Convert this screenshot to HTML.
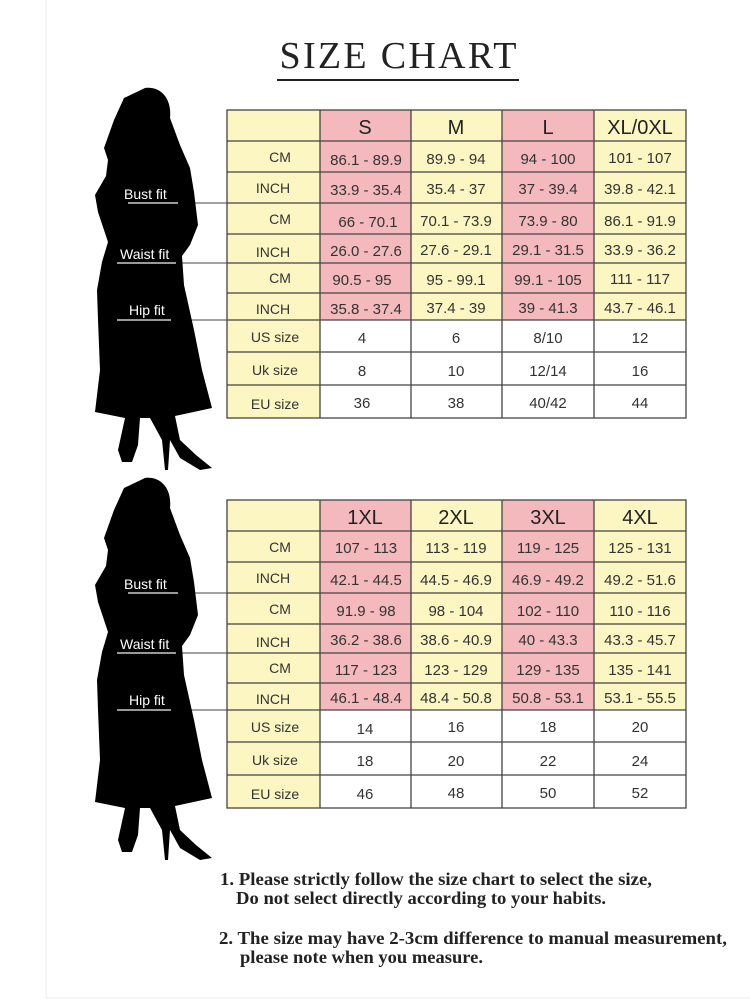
<!DOCTYPE html>
<html><head><meta charset="utf-8"><style>
html,body{margin:0;padding:0;background:#fff;}
svg{display:block;}
.h{font-family:"Liberation Sans",sans-serif;font-size:20px;fill:#222;text-anchor:middle;}
.v{font-family:"Liberation Sans",sans-serif;font-size:15px;fill:#333;text-anchor:middle;}
.l{font-family:"Liberation Sans",sans-serif;font-size:14px;fill:#333;text-anchor:middle;}
.f{font-family:"Liberation Sans",sans-serif;font-size:14px;fill:#fff;}
.n{font-family:"Liberation Serif",serif;font-size:18px;font-weight:bold;fill:#222;}
</style></head><body>
<svg width="750" height="1000" viewBox="0 0 750 1000" xmlns="http://www.w3.org/2000/svg">
<rect width="750" height="1000" fill="#fff"/>
<line x1="46" y1="0" x2="46" y2="998" stroke="#eee" stroke-width="1"/>
<line x1="46" y1="998" x2="750" y2="998" stroke="#eee" stroke-width="1"/>
<text x="398" y="68" font-family="Liberation Serif,serif" font-size="38" fill="#222" text-anchor="middle" textLength="237">SIZE CHART</text>
<line x1="277" y1="80" x2="519" y2="80" stroke="#222" stroke-width="2"/>

<defs>
<path id="sil" d="M145,88 C162,86 172,100 170,118 L180,145 L190,168 L194,192 L198,225 L190,245 L182,256 L184,285 L194,330 L202,370 L212,408 L175,416 L180,440 L196,455 L212,468 L200,470 L180,458 L170,440 L168,470 L165,470 L162,440 L150,418 L140,418 L138,445 L132,462 L122,462 L118,450 L125,418 L95,412 L100,370 L98,320 L97,290 L102,262 L108,242 L98,212 L95,195 L106,176 L108,160 L104,148 L114,120 L124,98 Z"/>
<g id="tbl">
<rect x="227" y="110" width="459" height="308" fill="#fbf6c2"/>
<rect x="320" y="110" width="91" height="210" fill="#f3b9bd"/>
<rect x="502" y="110" width="92" height="210" fill="#f3b9bd"/>
<rect x="320" y="320" width="366" height="98" fill="#fff"/>
<g stroke="#444" stroke-width="1.3" fill="none">
<rect x="227" y="110" width="459" height="308"/>
<line x1="320" y1="110" x2="320" y2="418"/><line x1="411" y1="110" x2="411" y2="418"/>
<line x1="502" y1="110" x2="502" y2="418"/><line x1="594" y1="110" x2="594" y2="418"/>
<line x1="227" y1="141" x2="686" y2="141"/><line x1="227" y1="172" x2="686" y2="172"/>
<line x1="227" y1="203" x2="686" y2="203"/><line x1="227" y1="234" x2="686" y2="234"/>
<line x1="227" y1="263" x2="686" y2="263"/><line x1="227" y1="293" x2="686" y2="293"/>
<line x1="227" y1="320" x2="686" y2="320"/><line x1="227" y1="352" x2="686" y2="352"/>
<line x1="227" y1="385" x2="686" y2="385"/>
</g>
<text class="l" x="280" y="162">CM</text><text class="l" x="273" y="193">INCH</text>
<text class="l" x="280" y="224">CM</text><text class="l" x="273" y="257">INCH</text>
<text class="l" x="280" y="283">CM</text><text class="l" x="273" y="314">INCH</text>
<text class="l" x="275" y="342">US size</text><text class="l" x="275" y="375">Uk size</text>
<text class="l" x="275" y="409">EU size</text>
<line x1="190" y1="203" x2="227" y2="203" stroke="#444"/>
<line x1="178" y1="263" x2="227" y2="263" stroke="#444"/>
<line x1="180" y1="320" x2="227" y2="320" stroke="#444"/>
<use href="#sil"/>
<text class="f" x="124" y="199">Bust fit</text><line x1="128" y1="203" x2="178" y2="203" stroke="#ccc" stroke-width="1.5"/>
<text class="f" x="120" y="259">Waist fit</text><line x1="117" y1="263" x2="176" y2="263" stroke="#ccc" stroke-width="1.5"/>
<text class="f" x="129" y="315">Hip fit</text><line x1="117" y1="320" x2="171" y2="320" stroke="#ccc" stroke-width="1.5"/>
</g>
</defs>

<use href="#tbl"/>
<use href="#tbl" transform="translate(0,390)"/>

<g class="h">
<text x="365" y="134">S</text><text x="456" y="134">M</text><text x="548" y="134">L</text><text x="640" y="134">XL/0XL</text>
<text x="365" y="524">1XL</text><text x="456" y="524">2XL</text><text x="548" y="524">3XL</text><text x="640" y="524">4XL</text>
</g>
<g class="v">
<text x="366" y="165">86.1 - 89.9</text><text x="456" y="164">89.9 - 94</text><text x="548" y="164">94 - 100</text><text x="640" y="163">101 - 107</text>
<text x="366" y="195">33.9 - 35.4</text><text x="456" y="194">35.4 - 37</text><text x="548" y="194">37 - 39.4</text><text x="640" y="194">39.8 - 42.1</text>
<text x="368" y="227">66 - 70.1</text><text x="456" y="226">70.1 - 73.9</text><text x="548" y="226">73.9 - 80</text><text x="640" y="226">86.1 - 91.9</text>
<text x="366" y="256">26.0 - 27.6</text><text x="456" y="255">27.6 - 29.1</text><text x="548" y="255">29.1 - 31.5</text><text x="640" y="255">33.9 - 36.2</text>
<text x="362" y="285">90.5 - 95</text><text x="456" y="285">95 - 99.1</text><text x="548" y="285">99.1 - 105</text><text x="640" y="284">111 - 117</text>
<text x="366" y="314">35.8 - 37.4</text><text x="456" y="313">37.4 - 39</text><text x="548" y="313">39 - 41.3</text><text x="640" y="313">43.7 - 46.1</text>
<text x="362" y="343">4</text><text x="456" y="343">6</text><text x="548" y="343">8/10</text><text x="640" y="343">12</text>
<text x="362" y="376">8</text><text x="456" y="376">10</text><text x="548" y="376">12/14</text><text x="640" y="376">16</text>
<text x="362" y="408">36</text><text x="456" y="408">38</text><text x="548" y="408">40/42</text><text x="640" y="408">44</text>

<text x="366" y="553">107 - 113</text><text x="456" y="553">113 - 119</text><text x="548" y="553">119 - 125</text><text x="640" y="553">125 - 131</text>
<text x="366" y="585">42.1 - 44.5</text><text x="456" y="585">44.5 - 46.9</text><text x="548" y="585">46.9 - 49.2</text><text x="640" y="585">49.2 - 51.6</text>
<text x="366" y="616">91.9 - 98</text><text x="456" y="616">98 - 104</text><text x="548" y="616">102 - 110</text><text x="640" y="616">110 - 116</text>
<text x="366" y="645">36.2 - 38.6</text><text x="456" y="645">38.6 - 40.9</text><text x="548" y="645">40 - 43.3</text><text x="640" y="645">43.3 - 45.7</text>
<text x="366" y="675">117 - 123</text><text x="456" y="675">123 - 129</text><text x="548" y="675">129 - 135</text><text x="640" y="675">135 - 141</text>
<text x="366" y="703">46.1 - 48.4</text><text x="456" y="703">48.4 - 50.8</text><text x="548" y="703">50.8 - 53.1</text><text x="640" y="703">53.1 - 55.5</text>
<text x="365" y="734">14</text><text x="456" y="732">16</text><text x="548" y="732">18</text><text x="640" y="732">20</text>
<text x="365" y="766">18</text><text x="456" y="766">20</text><text x="548" y="766">22</text><text x="640" y="766">24</text>
<text x="365" y="799">46</text><text x="456" y="798">48</text><text x="548" y="798">50</text><text x="640" y="798">52</text>
</g>

<text class="n" x="220" y="885" textLength="432" lengthAdjust="spacingAndGlyphs">1.  Please strictly follow the size chart to select the size,</text>
<text class="n" x="236" y="904" textLength="370" lengthAdjust="spacingAndGlyphs">Do not select directly according to your habits.</text>
<text class="n" x="219" y="944" textLength="508" lengthAdjust="spacingAndGlyphs">2.  The size may have 2-3cm difference  to manual measurement,</text>
<text class="n" x="240" y="963" textLength="243" lengthAdjust="spacingAndGlyphs">please note when you measure.</text>
</svg>
</body></html>
